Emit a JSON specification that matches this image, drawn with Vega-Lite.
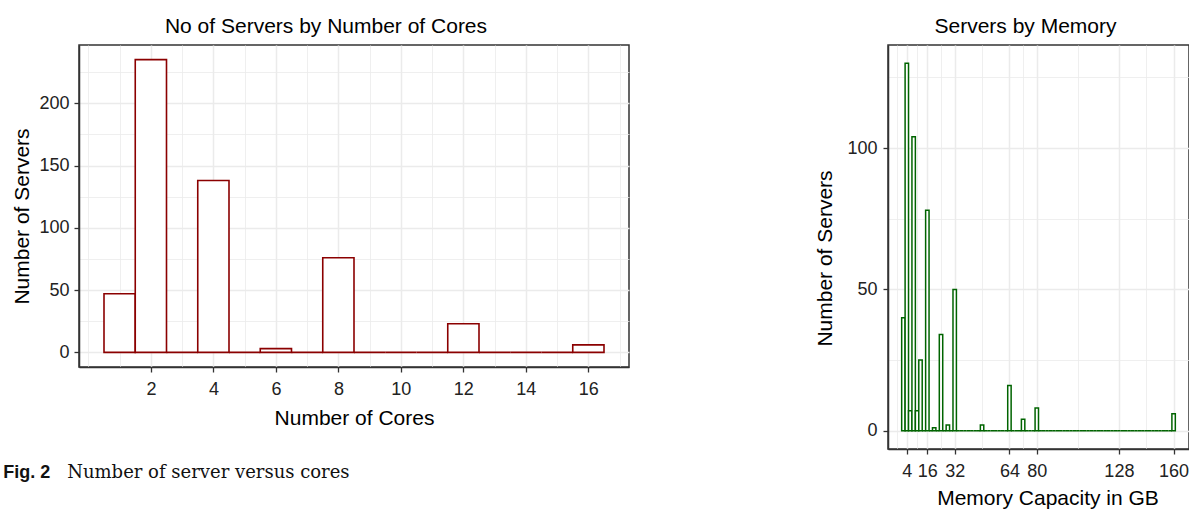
{
  "$schema": "https://vega.github.io/schema/vega-lite/v6.json",
  "padding": {"left": 3, "top": 14, "right": 0, "bottom": 0},
  "background": "white",
  "config": {
    "view": {"stroke": "#333333", "strokeWidth": 1.5},
    "axis": {
      "labelFont": "Liberation Sans", "labelFontSize": 18, "labelColor": "#222222",
      "titleFont": "Liberation Sans", "titleFontSize": 21, "titleFontWeight": "normal", "titleColor": "#000000",
      "tickColor": "#333333", "tickSize": 5, "tickWidth": 1.3,
      "domainColor": "#333333", "domainWidth": 1.5,
      "gridColor": "#EBEBEB",
      "labelOverlap": false, "labelFlush": false
    },
    "title": {"font": "Liberation Sans", "fontSize": 21, "fontWeight": "normal", "color": "#000000", "anchor": "middle"}
  },
  "spacing": 184,
  "hconcat": [
    {
      "spacing": 34,
      "vconcat": [
        {
          "title": {"text": "No of Servers by Number of Cores", "offset": 8.5, "dx": -28},
          "width": 550,
          "height": 322,
          "data": {"values": [
            {"start": 0.5, "end": 1.5, "count": 47},
            {"start": 1.5, "end": 2.5, "count": 235},
            {"start": 2.5, "end": 3.5, "count": 0},
            {"start": 3.5, "end": 4.5, "count": 138},
            {"start": 4.5, "end": 5.5, "count": 0},
            {"start": 5.5, "end": 6.5, "count": 3},
            {"start": 6.5, "end": 7.5, "count": 0},
            {"start": 7.5, "end": 8.5, "count": 76},
            {"start": 8.5, "end": 9.5, "count": 0},
            {"start": 9.5, "end": 10.5, "count": 0},
            {"start": 10.5, "end": 11.5, "count": 0},
            {"start": 11.5, "end": 12.5, "count": 23},
            {"start": 12.5, "end": 13.5, "count": 0},
            {"start": 13.5, "end": 14.5, "count": 0},
            {"start": 14.5, "end": 15.5, "count": 0},
            {"start": 15.5, "end": 16.5, "count": 6}
          ]},
          "mark": {"type": "bar", "fill": "white", "stroke": "#8B0000", "strokeWidth": 1.6},
          "encoding": {
            "x": {
              "field": "start", "type": "quantitative",
              "scale": {"domain": [-0.3, 17.3], "nice": false, "zero": false},
              "axis": {
                "title": "Number of Cores",
                "values": [0,1,2,3,4,5,6,7,8,9,10,11,12,13,14,15,16,17],
                "labelExpr": "datum.value % 2 === 0 && datum.value >= 2 ? datum.label : ''",
                "gridWidth": {"condition": {"test": "datum.value % 2 === 0 && datum.value >= 2", "value": 1.5}, "value": 0.8},
                "tickOpacity": {"condition": {"test": "datum.value % 2 === 0 && datum.value >= 2", "value": 1}, "value": 0},
                "labelPadding": 8,
                "titlePadding": 9.5
              }
            },
            "x2": {"field": "end"},
            "y": {
              "field": "count", "type": "quantitative",
              "scale": {"domain": [-11.75, 246.75], "nice": false, "zero": false},
              "axis": {
                "title": "Number of Servers",
                "values": [0,25,50,75,100,125,150,175,200,225],
                "labelExpr": "datum.value % 50 === 0 ? datum.label : ''",
                "gridWidth": {"condition": {"test": "datum.value % 50 === 0", "value": 1.5}, "value": 0.8},
                "tickOpacity": {"condition": {"test": "datum.value % 50 === 0", "value": 1}, "value": 0},
                "labelPadding": 5,
                "titlePadding": 6.5,
                "titleY": 171
              }
            },
            "y2": {"datum": 0}
          }
        },
        {
          "width": 1,
          "height": 20,
          "view": {"stroke": null},
          "layer": [
            {
              "data": {"values": [{"t": "Fig. 2"}]},
              "mark": {"type": "text", "align": "left", "baseline": "alphabetic", "font": "Liberation Sans", "fontWeight": "bold", "fontSize": 18, "color": "#111111", "dx": -76.3},
              "encoding": {"text": {"field": "t"}}
            },
            {
              "data": {"values": [{"t": "Number of server versus cores"}]},
              "mark": {"type": "text", "align": "left", "baseline": "alphabetic", "font": "DejaVu Serif", "fontSize": 18, "dx": -12.3, "color": "#111111"},
              "encoding": {"text": {"field": "t"}}
            }
          ]
        }
      ]
    },
    {
      "title": {"text": "Servers by Memory", "offset": 8.5, "dx": -13},
      "width": 301,
      "height": 404,
      "data": {"values": [
        {"start": 1, "end": 3, "count": 40},
        {"start": 3, "end": 5, "count": 130},
        {"start": 5, "end": 7, "count": 7},
        {"start": 7, "end": 9, "count": 104},
        {"start": 9, "end": 11, "count": 7},
        {"start": 11, "end": 13, "count": 25},
        {"start": 13, "end": 15, "count": 0},
        {"start": 15, "end": 17, "count": 78},
        {"start": 17, "end": 19, "count": 0},
        {"start": 19, "end": 21, "count": 1},
        {"start": 21, "end": 23, "count": 0},
        {"start": 23, "end": 25, "count": 34},
        {"start": 25, "end": 27, "count": 0},
        {"start": 27, "end": 29, "count": 2},
        {"start": 29, "end": 31, "count": 0},
        {"start": 31, "end": 33, "count": 50},
        {"start": 33, "end": 35, "count": 0},
        {"start": 35, "end": 37, "count": 0},
        {"start": 37, "end": 39, "count": 0},
        {"start": 39, "end": 41, "count": 0},
        {"start": 41, "end": 43, "count": 0},
        {"start": 43, "end": 45, "count": 0},
        {"start": 45, "end": 47, "count": 0},
        {"start": 47, "end": 49, "count": 2},
        {"start": 49, "end": 51, "count": 0},
        {"start": 51, "end": 53, "count": 0},
        {"start": 53, "end": 55, "count": 0},
        {"start": 55, "end": 57, "count": 0},
        {"start": 57, "end": 59, "count": 0},
        {"start": 59, "end": 61, "count": 0},
        {"start": 61, "end": 63, "count": 0},
        {"start": 63, "end": 65, "count": 16},
        {"start": 65, "end": 67, "count": 0},
        {"start": 67, "end": 69, "count": 0},
        {"start": 69, "end": 71, "count": 0},
        {"start": 71, "end": 73, "count": 4},
        {"start": 73, "end": 75, "count": 0},
        {"start": 75, "end": 77, "count": 0},
        {"start": 77, "end": 79, "count": 0},
        {"start": 79, "end": 81, "count": 8},
        {"start": 81, "end": 83, "count": 0},
        {"start": 83, "end": 85, "count": 0},
        {"start": 85, "end": 87, "count": 0},
        {"start": 87, "end": 89, "count": 0},
        {"start": 89, "end": 91, "count": 0},
        {"start": 91, "end": 93, "count": 0},
        {"start": 93, "end": 95, "count": 0},
        {"start": 95, "end": 97, "count": 0},
        {"start": 97, "end": 99, "count": 0},
        {"start": 99, "end": 101, "count": 0},
        {"start": 101, "end": 103, "count": 0},
        {"start": 103, "end": 105, "count": 0},
        {"start": 105, "end": 107, "count": 0},
        {"start": 107, "end": 109, "count": 0},
        {"start": 109, "end": 111, "count": 0},
        {"start": 111, "end": 113, "count": 0},
        {"start": 113, "end": 115, "count": 0},
        {"start": 115, "end": 117, "count": 0},
        {"start": 117, "end": 119, "count": 0},
        {"start": 119, "end": 121, "count": 0},
        {"start": 121, "end": 123, "count": 0},
        {"start": 123, "end": 125, "count": 0},
        {"start": 125, "end": 127, "count": 0},
        {"start": 127, "end": 129, "count": 0},
        {"start": 129, "end": 131, "count": 0},
        {"start": 131, "end": 133, "count": 0},
        {"start": 133, "end": 135, "count": 0},
        {"start": 135, "end": 137, "count": 0},
        {"start": 137, "end": 139, "count": 0},
        {"start": 139, "end": 141, "count": 0},
        {"start": 141, "end": 143, "count": 0},
        {"start": 143, "end": 145, "count": 0},
        {"start": 145, "end": 147, "count": 0},
        {"start": 147, "end": 149, "count": 0},
        {"start": 149, "end": 151, "count": 0},
        {"start": 151, "end": 153, "count": 0},
        {"start": 153, "end": 155, "count": 0},
        {"start": 155, "end": 157, "count": 0},
        {"start": 157, "end": 159, "count": 0},
        {"start": 159, "end": 161, "count": 6}
      ]},
      "mark": {"type": "bar", "fill": "white", "stroke": "#006400", "strokeWidth": 1.5},
      "encoding": {
        "x": {
          "field": "start", "type": "quantitative",
          "scale": {"domain": [-7, 169], "nice": false, "zero": false},
          "axis": {
            "title": "Memory Capacity in GB",
            "values": [-2, 4, 10, 16, 24, 32, 48, 64, 72, 80, 104, 128, 144, 160],
            "labelExpr": "indexof([4, 16, 32, 64, 80, 128, 160], datum.value) >= 0 ? datum.label : ''",
            "gridWidth": {"condition": {"test": "indexof([4, 16, 32, 64, 80, 128, 160], datum.value) >= 0", "value": 1.5}, "value": 0.8},
            "tickOpacity": {"condition": {"test": "indexof([4, 16, 32, 64, 80, 128, 160], datum.value) >= 0", "value": 1}, "value": 0},
            "labelPadding": 8,
            "titlePadding": 7,
            "titleX": 159.5
          }
        },
        "x2": {"field": "end"},
        "y": {
          "field": "count", "type": "quantitative",
          "scale": {"domain": [-6.5, 136.5], "nice": false, "zero": false},
          "axis": {
            "title": "Number of Servers",
            "values": [0, 25, 50, 75, 100, 125],
            "labelExpr": "datum.value % 50 === 0 ? datum.label : ''",
            "gridWidth": {"condition": {"test": "datum.value % 50 === 0", "value": 1.5}, "value": 0.8},
            "tickOpacity": {"condition": {"test": "datum.value % 50 === 0", "value": 1}, "value": 0},
            "labelPadding": 6,
            "titlePadding": 11,
            "titleY": 213
          }
        },
        "y2": {"datum": 0}
      }
    }
  ]
}
